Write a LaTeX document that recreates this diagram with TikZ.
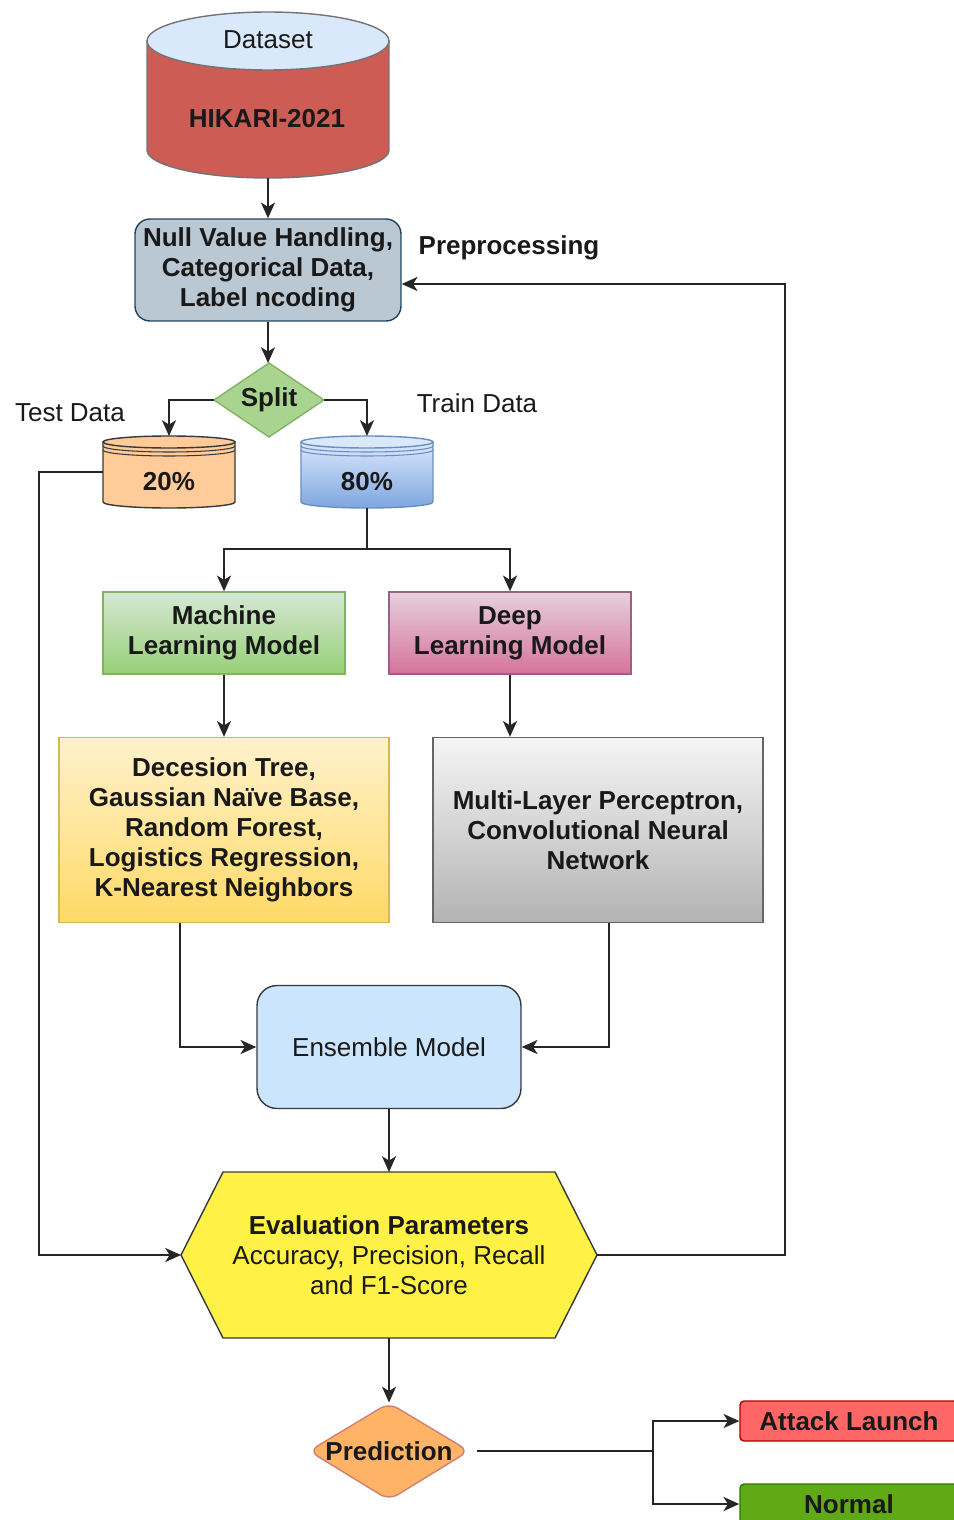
\documentclass[tikz,border=0pt]{standalone}
\usepackage{fontspec}
\setmainfont{Liberation Sans}
\usetikzlibrary{arrows.meta}
\definecolor{DataRed}{HTML}{CD5C55}
\definecolor{DataBlue}{HTML}{DAE8FC}
\definecolor{PreFill}{HTML}{BAC8D3}
\definecolor{PreLine}{HTML}{23445D}
\definecolor{SplitFill}{HTML}{A9D48F}
\definecolor{SplitLine}{HTML}{82B366}
\definecolor{TestFill}{HTML}{FFCC99}
\definecolor{TrainLow}{HTML}{7EA6E0}
\definecolor{TrainLine}{HTML}{6C8EBF}
\definecolor{MLTop}{HTML}{D5E8D4}
\definecolor{MLLow}{HTML}{97D077}
\definecolor{DLTop}{HTML}{E6D0DE}
\definecolor{DLLow}{HTML}{D5739D}
\definecolor{DLLine}{HTML}{996185}
\definecolor{AlgTop}{HTML}{FFF2CC}
\definecolor{AlgLow}{HTML}{FFD966}
\definecolor{AlgLine}{HTML}{D6B656}
\definecolor{NetTop}{HTML}{F5F5F5}
\definecolor{NetLow}{HTML}{B3B3B3}
\definecolor{NetLine}{HTML}{666666}
\definecolor{EnsFill}{HTML}{CCE5FF}
\definecolor{EvalFill}{HTML}{FFF145}
\definecolor{PredFill}{HTML}{FFB366}
\definecolor{PredLine}{HTML}{D08070}
\definecolor{AttackFill}{HTML}{FF6666}
\definecolor{AttackLine}{HTML}{B20000}
\definecolor{NormalFill}{HTML}{60A917}
\definecolor{NormalLine}{HTML}{2D7600}
\definecolor{Ink}{HTML}{36393D}

\tikzset{
  lbl/.style={font=\fontsize{14.8}{17}\selectfont, text=black!90, align=center, inner sep=0pt},
  lblb/.style={lbl, font=\fontsize{14.8}{17}\selectfont\bfseries},
  box/.style={lblb, draw, line width=0.8pt},
  frame/.style={inner sep=0pt, outer sep=0pt},
  link/.style={draw=black!85, line width=1.1pt, -{Stealth[length=9pt,width=8pt,inset=2.5pt]}},
  wire/.style={draw=black!85, line width=1.1pt},
}

\begin{document}
\begin{tikzpicture}[x=0.02cm,y=-0.02cm]
  \useasboundingbox (0,0) rectangle (953,1520);
  % dataset
  \draw[black!55, line width=0.8pt, fill=DataRed] (147,41) -- (147,150) arc[start angle=180,end angle=360,x radius=2.42cm,y radius=0.56cm] -- (389,41) -- cycle;
  \draw[black!55, line width=0.8pt, fill=DataBlue] (268,41) ellipse[x radius=2.42cm,y radius=0.58cm];
  \node[frame, minimum width=4.84cm, minimum height=3.32cm] (db) at (268,95) {};
  \node[lbl] (dbtop) at (268,40) {Dataset};
  \node[lblb] (dbname) at (267,119) {HIKARI-2021};

  \node[box, draw=PreLine, fill=PreFill, rounded corners=0.3cm, minimum width=5.32cm, minimum height=2.04cm] (pre) at (268,270) {Null Value Handling,\\Categorical Data,\\Label ncoding};
  \node[lblb] (prelbl) at (509,248) {Preprocessing};

  \draw[SplitLine, line width=0.8pt, fill=SplitFill] (214,400) -- (269,363) -- (324,400) -- (269,437) -- cycle;
  \node[lblb, frame, minimum width=2.2cm, minimum height=1.48cm] (split) at (269,400) {Split};
  \node[lbl] (testlbl) at (70,413) {Test Data};
  \node[lbl] (trainlbl) at (477,403) {Train Data};

  % test and train stores
  \draw[Ink, line width=0.8pt, fill=TestFill] (103,442) -- (103,502) arc[start angle=180,end angle=360,x radius=1.32cm,y radius=0.12cm] -- (235,442) -- cycle;
  \draw[Ink, line width=0.8pt, fill=TestFill] (169,442) ellipse[x radius=1.32cm,y radius=0.12cm];
  \foreach \dy in {4,8} \draw[Ink, line width=0.6pt] (103,{442+\dy}) arc[start angle=180,end angle=360,x radius=1.32cm,y radius=0.12cm];
  \node[frame, minimum width=2.64cm, minimum height=1.44cm] (test) at (169,472) {};
  \node[lblb] (testpct) at (169,482) {20\%};

  \draw[TrainLine, line width=0.8pt, top color=DataBlue, bottom color=TrainLow] (301,442) -- (301,502) arc[start angle=180,end angle=360,x radius=1.32cm,y radius=0.12cm] -- (433,442) -- cycle;
  \draw[TrainLine, line width=0.8pt, fill=DataBlue] (367,442) ellipse[x radius=1.32cm,y radius=0.12cm];
  \foreach \dy in {4,8} \draw[TrainLine, line width=0.6pt] (301,{442+\dy}) arc[start angle=180,end angle=360,x radius=1.32cm,y radius=0.12cm];
  \node[frame, minimum width=2.64cm, minimum height=1.44cm] (train) at (367,472) {};
  \node[lblb] (trainpct) at (367,482) {80\%};

  % models
  \node[box, draw=SplitLine, top color=MLTop, bottom color=MLLow, minimum width=4.84cm, minimum height=1.64cm] (ml) at (224,633) {Machine\\Learning Model};
  \node[box, draw=DLLine, top color=DLTop, bottom color=DLLow, minimum width=4.84cm, minimum height=1.64cm] (dl) at (510,633) {Deep\\Learning Model};
  \node[box, draw=AlgLine, top color=AlgTop, bottom color=AlgLow, minimum width=6.6cm, minimum height=3.7cm] (mlalg) at (224,830) {Decesion Tree,\\Gaussian Naïve Base,\\Random Forest,\\Logistics Regression,\\K-Nearest Neighbors};
  \node[box, draw=NetLine, top color=NetTop, bottom color=NetLow, minimum width=6.6cm, minimum height=3.7cm] (dlalg) at (598,830) {Multi-Layer Perceptron,\\Convolutional Neural\\Network};
  \node[lbl, draw=Ink, line width=0.8pt, fill=EnsFill, rounded corners=0.4cm, minimum width=5.28cm, minimum height=2.46cm] (ens) at (389,1047) {Ensemble Model};

  % evaluation
  \draw[Ink, line width=0.8pt, fill=EvalFill] (181,1255) -- (223,1172) -- (555,1172) -- (597,1255) -- (555,1338) -- (223,1338) -- cycle;
  \node[lbl, frame, minimum width=8.32cm, minimum height=3.32cm] (eval) at (389,1255) {\textbf{Evaluation Parameters}\\Accuracy, Precision, Recall\\and F1-Score};

  \draw[PredLine, line width=0.8pt, fill=PredFill, rounded corners=0.2cm] (309,1451) -- (389,1403) -- (469,1451) -- (389,1500) -- cycle;
  \node[lblb, frame, minimum width=3.2cm, minimum height=1.94cm] (pred) at (389,1451) {Prediction};
  \node[lblb, draw=AttackLine, fill=AttackFill, line width=0.8pt, rounded corners=0.08cm, minimum width=4.36cm, minimum height=0.8cm] (attack) at (849,1421) {Attack Launch};
  \node[lblb, draw=NormalLine, fill=NormalFill, line width=0.8pt, rounded corners=0.08cm, minimum width=4.36cm, minimum height=0.8cm] (normal) at (849,1504) {Normal};

  % connectors
  \draw[link] (db.south) -- (pre.north);
  \draw[link] (pre.south) -- (pre.south |- split.north);
  \draw[link] (split.west) -| (test.north);
  \draw[link] (split.east) -| (train.north);
  \draw[wire] (train.south) -- ++(0,41) coordinate (fork);
  \draw[link] (fork) -| (ml.north);
  \draw[link] (fork) -| (dl.north);
  \draw[link] (ml) -- (mlalg);
  \draw[link] (dl) -- (dl.south |- dlalg.north);
  \draw[link] ([xshift=-0.88cm]mlalg.south) |- (ens.west);
  \draw[link] ([xshift=0.22cm]dlalg.south) |- (ens.east);
  \draw[link] (ens) -- (eval);
  \draw[link] (test.west) -- ++(-64,0) |- (eval.west);
  \draw[link] (eval.east) -- ++(188,0) |- ([yshift=-0.28cm]pre.east);
  \draw[link] (eval) -- (pred);
  \draw[wire] ([xshift=0.16cm]pred.east) -- ++(176,0) coordinate (branch);
  \draw[link] (branch) |- (attack.west);
  \draw[link] (branch) |- (normal.west);
\end{tikzpicture}
\end{document}
